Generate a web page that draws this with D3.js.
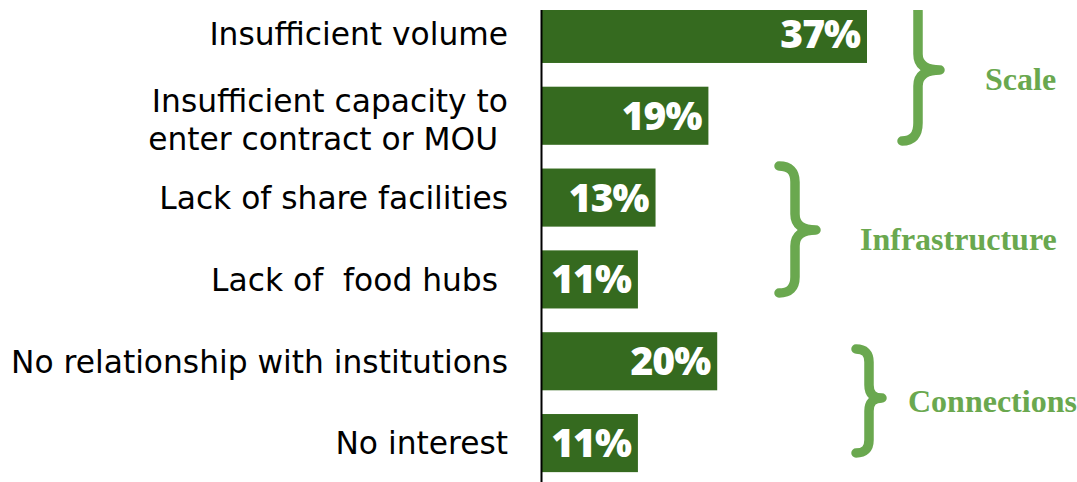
<!DOCTYPE html>
<html>
<head>
<meta charset="utf-8">
<script src="https://cdn.jsdelivr.net/npm/d3@7"></script>
<style>
  html, body { margin: 0; padding: 0; background: #fff; }
  svg { display: block; }
  text { white-space: pre; }
</style>
</head>
<body>
<svg id="chart" width="1077" height="482"></svg>
<script>
// Barriers to selling to institutions, grouped by theme
const categories = [
  "Insufficient volume",
  "Insufficient capacity to\nenter contract or MOU ",
  "Lack of share facilities",
  "Lack of  food hubs ",
  "No relationship with institutions",
  "No interest"
];
const values = [37, 19, 13, 11, 20, 11];
const groupNames = ["Scale", "Infrastructure", "Connections"];
const groupOfCategory = ["Scale", "Scale", "Infrastructure", "Infrastructure", "Connections", "Connections"];

const W = 1077, H = 482;
const barColor = "#356a1f";
const braceColor = "#6aa84f";

const svg = d3.select("#chart");

// visible area starts a little below the top edge
svg.append("defs").append("clipPath").attr("id", "plotClip")
  .append("rect").attr("x", 0).attr("y", 10).attr("width", W).attr("height", H - 10);

const g = svg.append("g").attr("clip-path", "url(#plotClip)");

const y = d3.scaleBand()
  .domain(categories)
  .range([-7, 484])
  .paddingInner(0.29)
  .paddingOuter(0.145);

const x = d3.scaleLinear().domain([0, 37]).range([541, 867]);

// bars
g.selectAll("rect.bar")
  .data(categories)
  .join("rect")
  .attr("class", "bar")
  .attr("x", x(0))
  .attr("y", d => y(d))
  .attr("width", (d, i) => x(values[i]) - x(0))
  .attr("height", y.bandwidth())
  .attr("fill", barColor);

// value labels inside the bar ends
g.selectAll("text.val")
  .data(categories)
  .join("text")
  .attr("class", "val")
  .attr("x", (d, i) => x(values[i]) - 7)
  .attr("y", d => y(d) + y.bandwidth() / 2)
  .attr("dy", "0.36em")
  .attr("text-anchor", "end")
  .attr("fill", "#fff")
  .attr("font-family", "'Open Sans', sans-serif")
  .attr("font-weight", 800)
  .attr("font-size", 39)
  .attr("letter-spacing", -1)
  .text((d, i) => values[i] + "%");

// vertical category axis line
const axis = d3.axisLeft(y).tickFormat("").tickSize(0).tickSizeOuter(0);
const axG = g.append("g").attr("transform", `translate(${x(0)},0)`).call(axis);
axG.select(".domain").attr("stroke", "#000").attr("stroke-width", 2);

// category labels, right aligned, possibly two lines
const lineH = 38;
g.selectAll("text.cat")
  .data(categories)
  .join("text")
  .attr("class", "cat")
  .attr("text-anchor", "end")
  .attr("font-family", "'DejaVu Sans', sans-serif")
  .attr("font-size", 31.3)
  .attr("fill", "#000")
  .each(function(d) {
    const lines = d.split("\n");
    const cy = y(d) + y.bandwidth() / 2 + (lines.length > 1 ? 4 : 0);
    const t = d3.select(this);
    lines.forEach((ln, k) => {
      t.append("tspan")
        .attr("x", 508)
        .attr("y", cy + (k - (lines.length - 1) / 2) * lineH)
        .attr("dy", "0.36em")
        .text(ln);
    });
  });

// curly braces marking each group
const braceLayout = [
  { hook: 902, arm: 918, tip: 940, top: -6, mid: 70, bot: 141, r: 18, tr: 16 },
  { hook: 779, arm: 795, tip: 816, top: 166, mid: 230, bot: 293, r: 16, tr: 16 },
  { hook: 856, arm: 869, tip: 882, top: 349, mid: 398, bot: 453, r: 13, tr: 13 }
];
const labelPos = [
  { x: 985, y: 90 },
  { x: 860, y: 250 },
  { x: 908, y: 412 }
];

function bracePath(b) {
  const p = d3.path();
  p.moveTo(b.hook, b.top);
  p.quadraticCurveTo(b.arm, b.top, b.arm, b.top + b.r);
  p.lineTo(b.arm, b.mid - b.tr);
  p.quadraticCurveTo(b.arm, b.mid, b.tip, b.mid);
  p.quadraticCurveTo(b.arm, b.mid, b.arm, b.mid + b.tr);
  p.lineTo(b.arm, b.bot - b.r);
  p.quadraticCurveTo(b.arm, b.bot, b.hook, b.bot);
  return p.toString();
}

g.selectAll("path.brace")
  .data(groupNames)
  .join("path")
  .attr("class", "brace")
  .attr("d", (d, i) => bracePath(braceLayout[i]))
  .attr("fill", "none")
  .attr("stroke", braceColor)
  .attr("stroke-width", 9.5)
  .attr("stroke-linecap", "round")
  .attr("stroke-linejoin", "round");

g.selectAll("text.group")
  .data(groupNames)
  .join("text")
  .attr("class", "group")
  .attr("x", (d, i) => labelPos[i].x)
  .attr("y", (d, i) => labelPos[i].y)
  .attr("font-family", "'Liberation Serif', 'Times New Roman', serif")
  .attr("font-weight", "bold")
  .attr("font-size", 32)
  .attr("fill", braceColor)
  .text(d => d);
</script>
</body>
</html>
